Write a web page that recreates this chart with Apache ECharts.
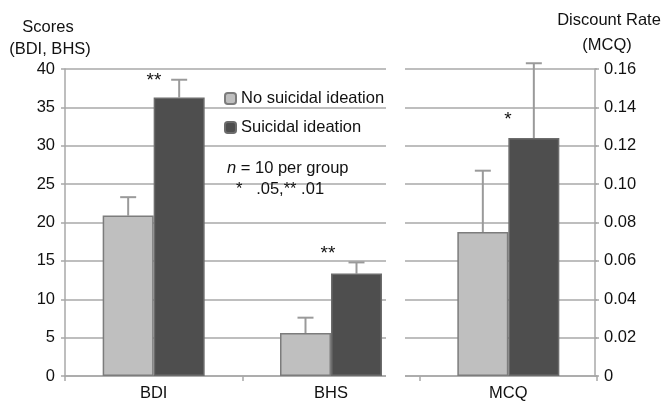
<!DOCTYPE html>
<html>
<head>
<meta charset="utf-8">
<script src="https://cdn.jsdelivr.net/npm/echarts@6/dist/echarts.min.js"></script>
<style>
  html, body { margin: 0; padding: 0; background: #fff; }
  #chart { width: 664px; height: 404px; }
</style>
</head>
<body>
<div id="chart"></div>
<script>
// 数据
var categories = ['BDI', 'BHS', 'MCQ'];
var groupNames = ['No suicidal ideation', 'Suicidal ideation'];

// BDI, BHS (左轴)
var noIdeationScores = [20.9, 5.6];
var noIdeationScoresErr = [2.4, 2.0];
var ideationScores = [36.3, 13.35];
var ideationScoresErr = [2.3, 1.45];

// MCQ (右轴)
var noIdeationMCQ = [0.075];
var noIdeationMCQErr = [0.032];
var ideationMCQ = [0.124];
var ideationMCQErr = [0.039];

var stars = ['**', '**', '*'];

var BAR_W = 51;
var FS = 16.5;
var FONT = 'Liberation Sans, Arial, sans-serif';
var lightColor = '#bfbfbf';
var darkColor = '#4e4e4e';
var gridColor = '#a8a8a8';

var myChart = echarts.init(document.getElementById('chart'));

// 误差线数据 [类别, 值, 误差, 方向]
var errScores = [];
var errMCQ = [];
for (var i = 0; i < noIdeationScores.length; i++) {
  errScores.push([i, noIdeationScores[i], noIdeationScoresErr[i], -1]);
  errScores.push([i, ideationScores[i], ideationScoresErr[i], 1]);
}
errMCQ.push([2, noIdeationMCQ[0], noIdeationMCQErr[0], -1]);
errMCQ.push([2, ideationMCQ[0], ideationMCQErr[0], 1]);

function renderErr (params, api) {
  var x = api.value(0), v = api.value(1), e = api.value(2), side = api.value(3);
  var p0 = api.coord([x, v]);
  var p1 = api.coord([x, v + e]);
  var cx = p0[0] + side * BAR_W / 2;
  var st = { stroke: '#9a9a9a', lineWidth: 2 };
  return {
    type: 'group',
    children: [
      { type: 'line', shape: { x1: cx, y1: p0[1], x2: cx, y2: p1[1] }, style: st },
      { type: 'line', shape: { x1: cx - 8, y1: p1[1], x2: cx + 8, y2: p1[1] }, style: st }
    ]
  };
}

function txt (s, x, y, opt) {
  return {
    type: 'text', z: 110, x: x, y: y,
    style: Object.assign({
      text: s, fontSize: FS, fontFamily: FONT, fill: '#111',
      align: 'center', verticalAlign: 'middle'
    }, opt || {})
  };
}

var gridPos = { left: 65, top: 69, width: 532, height: 307 };
var axisLineStyle = { color: gridColor, width: 1.5 };

option = {
  animation: false,
  textStyle: { fontFamily: FONT },
  grid: [
    Object.assign({}, gridPos),
    Object.assign({}, gridPos)
  ],
  legend: {
    orient: 'vertical',
    left: 219,
    top: 85,
    itemWidth: 11,
    itemHeight: 11,
    itemGap: 12,
    data: groupNames,
    textStyle: { fontSize: FS, color: '#111', fontFamily: FONT }
  },
  xAxis: [{
    type: 'category',
    gridIndex: 0,
    data: categories,
    axisLine: { lineStyle: axisLineStyle },
    axisTick: { show: true, length: 5, lineStyle: axisLineStyle },
    axisLabel: { fontSize: FS, color: '#111', margin: 9 }
  }, {
    type: 'category',
    gridIndex: 1,
    data: categories,
    show: false
  }],
  yAxis: [{
    type: 'value',
    gridIndex: 0,
    min: 0,
    max: 40,
    interval: 5,
    axisLine: { show: true, lineStyle: axisLineStyle },
    axisTick: { show: true, length: 4, lineStyle: axisLineStyle },
    axisLabel: { fontSize: FS, color: '#111', margin: 10 },
    splitLine: { lineStyle: { color: gridColor, width: 1.5 } }
  }, {
    type: 'value',
    gridIndex: 1,
    position: 'right',
    offset: -2,
    min: 0,
    max: 0.16,
    interval: 0.02,
    axisLine: { show: true, lineStyle: axisLineStyle },
    axisTick: { show: true, length: 4, lineStyle: axisLineStyle },
    axisLabel: {
      fontSize: FS, color: '#111', margin: 9,
      formatter: function (v) { return v === 0 ? '0' : v.toFixed(2); }
    },
    splitLine: { show: false }
  }],
  series: [{
    name: groupNames[0],
    type: 'bar',
    xAxisIndex: 0, yAxisIndex: 0,
    barWidth: BAR_W, barGap: 0,
    itemStyle: { color: lightColor, borderColor: '#7c7c7c', borderWidth: 1.5 },
    data: noIdeationScores.concat(['-'])
  }, {
    name: groupNames[1],
    type: 'bar',
    xAxisIndex: 0, yAxisIndex: 0,
    barWidth: BAR_W, barGap: 0,
    itemStyle: { color: darkColor, borderColor: '#6c6c6c', borderWidth: 1.5 },
    data: ideationScores.concat(['-'])
  }, {
    name: groupNames[0],
    type: 'bar',
    xAxisIndex: 1, yAxisIndex: 1,
    barWidth: BAR_W, barGap: 0,
    itemStyle: { color: lightColor, borderColor: '#7c7c7c', borderWidth: 1.5 },
    data: ['-', '-'].concat(noIdeationMCQ)
  }, {
    name: groupNames[1],
    type: 'bar',
    xAxisIndex: 1, yAxisIndex: 1,
    barWidth: BAR_W, barGap: 0,
    itemStyle: { color: darkColor, borderColor: '#6c6c6c', borderWidth: 1.5 },
    data: ['-', '-'].concat(ideationMCQ)
  }, {
    type: 'custom',
    xAxisIndex: 0, yAxisIndex: 0,
    renderItem: renderErr,
    data: errScores,
    z: 1
  }, {
    type: 'custom',
    xAxisIndex: 1, yAxisIndex: 1,
    renderItem: renderErr,
    data: errMCQ,
    z: 1
  }],
  graphic: [
    // 两个面板之间的空隙
    { type: 'rect', z: 100, shape: { x: 386, y: 60, width: 19, height: 322 }, style: { fill: '#fff' } },
    txt('Scores', 48, 27),
    txt('(BDI, BHS)', 50, 49),
    txt('Discount Rate', 609, 20),
    txt('(MCQ)', 607, 45),
    txt('{i|n} = 10 per group', 227, 168, {
      align: 'left',
      rich: { i: { fontStyle: 'italic', fontSize: FS, fontFamily: FONT, fill: '#111' } }
    }),
    txt('*   .05,** .01', 236, 189, { align: 'left' }),
    txt(stars[0], 154, 81, { fontSize: 19 }),
    txt(stars[1], 328, 254, { fontSize: 19 }),
    txt(stars[2], 508, 120, { fontSize: 19 })
  ]
};

myChart.setOption(option);
window.addEventListener('resize', function () {
  myChart.resize();
});
</script>
</body>
</html>
